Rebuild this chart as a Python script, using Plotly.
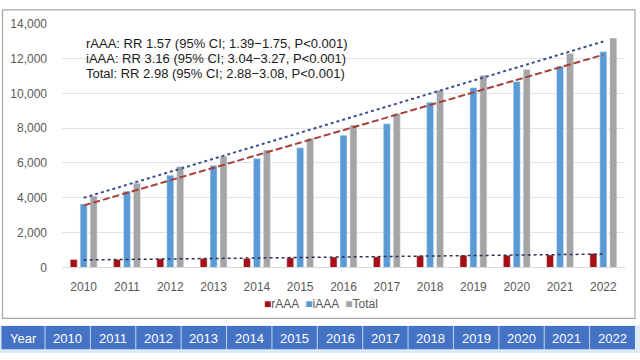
import numpy as np
import plotly.graph_objects as go

years = ["2010", "2011", "2012", "2013", "2014", "2015", "2016",
         "2017", "2018", "2019", "2020", "2021", "2022"]
raaa = [460, 460, 500, 510, 510, 560, 600, 610, 670, 700, 700, 720, 800]
iaaa = [3640, 4370, 5290, 5850, 6250, 6880, 7590, 8250, 9490, 10320, 10670, 11550, 12390]
total = [4100, 4840, 5800, 6380, 6740, 7420, 8180, 8840, 10170, 11040, 11370, 12280, 13170]
rr_lines = [
    "rAAA: RR 1.57 (95% CI; 1.39\u22121.75, P<0.001)",
    "iAAA: RR 3.16 (95% CI; 3.04\u22123.27, P<0.001)",
    "Total: RR 2.98 (95% CI; 2.88\u22123.08, P<0.001)",
]
y_ticks = [0, 2000, 4000, 6000, 8000, 10000, 12000, 14000]

FONT = "Liberation Sans, Arial, sans-serif"
C_R, C_I, C_T = "#A50F15", "#5B9BD5", "#A5A5A5"
W, H = 640, 360


def px(x):
    return x / W


def py(y):
    return 1 - y / H


def linfit(vals):
    idx = np.arange(len(vals))
    a, b = np.polyfit(idx, vals, 1)
    return a * idx + b


fig = go.Figure()
fig.add_trace(go.Bar(x=years, y=raaa, name="rAAA", marker_color=C_R))
fig.add_trace(go.Bar(x=years, y=iaaa, name="iAAA", marker_color=C_I))
fig.add_trace(go.Bar(x=years, y=total, name="Total", marker_color=C_T))

# linear trend lines fitted from the series
fig.add_trace(go.Scatter(x=years, y=linfit(total), mode="lines", showlegend=False,
                         line=dict(color="#3B4F8F", width=2, dash="dot"), hoverinfo="skip"))
fig.add_trace(go.Scatter(x=years, y=linfit(iaaa), mode="lines", showlegend=False,
                         line=dict(color="#A8403A", width=2, dash="7px,3px"), hoverinfo="skip"))
fig.add_trace(go.Scatter(x=years, y=linfit(raaa), mode="lines", showlegend=False,
                         line=dict(color="#2B3550", width=1.5, dash="dot"), hoverinfo="skip"))

annotations = []
for i, t in enumerate(rr_lines):
    annotations.append(dict(text=t, x=px(84), y=py(38 + i * 15.5), xref="paper", yref="paper",
                            xanchor="left", yanchor="middle", showarrow=False,
                            font=dict(family=FONT, size=13, color="#1a1a1a")))

# legend (compact, Excel style)
legend_txt = ("<span style='color:%s'>\u25A0</span>rAAA  "
              "<span style='color:%s'>\u25A0</span>iAAA  "
              "<span style='color:%s'>\u25A0</span>Total") % (C_R, C_I, C_T)
annotations.append(dict(text=legend_txt, x=px(321), y=py(309), xref="paper", yref="paper",
                        xanchor="center", yanchor="middle", showarrow=False,
                        font=dict(family=FONT, size=12, color="#595959")))

shapes = [
    # chart border
    dict(type="rect", xref="paper", yref="paper", x0=px(2.5), x1=px(635), y0=py(324), y1=py(3),
         line=dict(color="#A6A6A6", width=1.2), fillcolor="rgba(0,0,0,0)", layer="below"),
    # table strip
    dict(type="rect", xref="paper", yref="paper", x0=px(0), x1=px(640), y0=py(360), y1=py(331),
         line=dict(width=0), fillcolor="#DDEBF7", layer="below"),
    dict(type="rect", xref="paper", yref="paper", x0=px(1.5), x1=px(635), y0=py(356), y1=py(332),
         line=dict(width=0), fillcolor="#4472C4", layer="below"),
]

table_labels = ["Year"] + years
cell_w = (635 - 45) / len(years)
edges = [1.5, 45] + [45 + cell_w * (k + 1) for k in range(len(years))]
for k, lab in enumerate(table_labels):
    x0, x1 = edges[k], edges[k + 1]
    annotations.append(dict(text=lab, x=px((x0 + x1) / 2), y=py(344.5), xref="paper", yref="paper",
                            xanchor="center", yanchor="middle", showarrow=False,
                            font=dict(family=FONT, size=13, color="white")))
    if k > 0:
        shapes.append(dict(type="line", xref="paper", yref="paper", x0=px(x0), x1=px(x0),
                           y0=py(356), y1=py(332), line=dict(color="#BDD7EE", width=1)))

fig.update_layout(
    width=W, height=H, autosize=False,
    margin=dict(l=0, r=0, t=0, b=0),
    paper_bgcolor="white", plot_bgcolor="white",
    barmode="group", bargap=0.31, bargroupgap=0.3,
    showlegend=False,
    font=dict(family=FONT, size=12, color="#595959"),
    xaxis=dict(domain=[px(62), px(625)], showgrid=False, showline=True,
               linecolor="#D9D9D9", linewidth=1, ticks="", tickfont=dict(size=12, color="#595959"),
               ticklabelstandoff=8),
    yaxis=dict(domain=[py(271), py(17.3)], range=[0, 14000], tickvals=y_ticks,
               tickformat=",d", showgrid=True, gridcolor="#E3E3E3", gridwidth=1,
               zeroline=False, showline=False, ticks="",
               tickfont=dict(size=12, color="#595959"), ticklabelstandoff=14),
    annotations=annotations,
    shapes=shapes,
)

css_js = (
    "var s=document.createElement('style');"
    "s.innerHTML='html,body{margin:0!important;padding:0!important;background:#ffffff;}';"
    "document.head.appendChild(s);"
)
fig.write_html("out.html", config={"displayModeBar": False}, post_script=css_js)
